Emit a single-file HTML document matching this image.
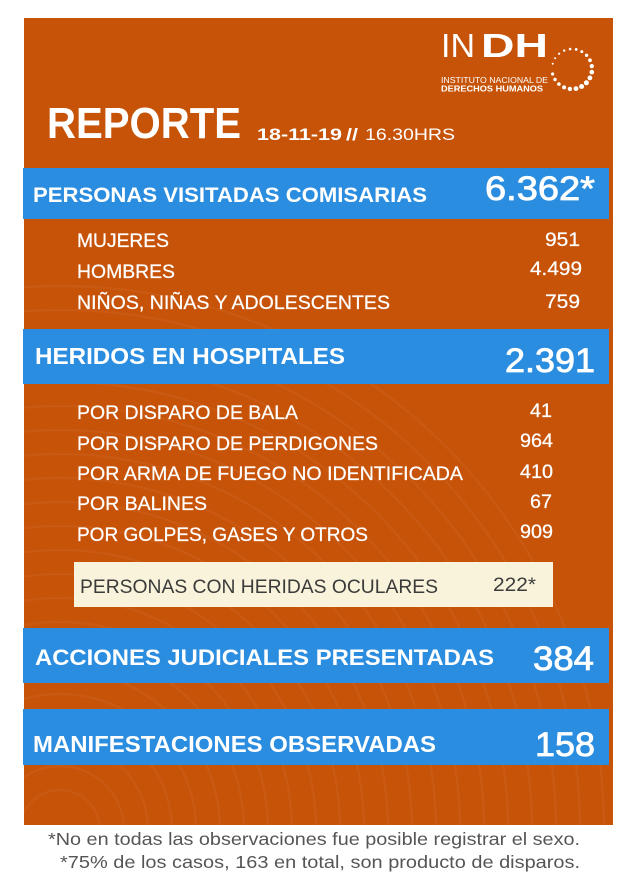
<!DOCTYPE html>
<html>
<head>
<meta charset="utf-8">
<style>
  html,body{margin:0;padding:0;background:#fff;width:630px;height:888px;overflow:hidden;}
  svg{display:block;}
  text{font-family:"Liberation Sans",sans-serif;}
</style>
</head>
<body>
<svg width="630" height="888" viewBox="0 0 630 888" xmlns="http://www.w3.org/2000/svg" style="overflow:hidden">
  <defs>
    <clipPath id="oc"><rect x="24" y="18" width="589" height="807"/></clipPath>
  </defs>
  <rect x="0" y="0" width="630" height="888" fill="#ffffff"/>
  <!-- orange panel -->
  <rect x="24" y="18" width="589" height="807" fill="#c65308"/>
  <!-- subtle background arcs -->
  <g clip-path="url(#oc)" fill="none" stroke="#d9783a" stroke-opacity="0.22" stroke-width="2.2">
    <path d="M24 812.6 A40 40 0 0 1 99.7 825"/>
    <path d="M24 777.1 A64 64 0 0 1 123.8 825"/>
    <path d="M24 749.7 A88 88 0 0 1 147.9 825"/>
    <path d="M24 723.9 A112 112 0 0 1 171.9 825"/>
    <path d="M24 698.9 A136 136 0 0 1 195.9 825"/>
    <path d="M24 674.1 A160 160 0 0 1 219.9 825"/>
    <path d="M24 649.6 A184 184 0 0 1 243.9 825"/>
    <path d="M24 625.1 A208 208 0 0 1 267.9 825"/>
    <path d="M24 600.8 A232 232 0 0 1 291.9 825"/>
    <path d="M24 576.5 A256 256 0 0 1 315.9 825"/>
    <path d="M24 552.3 A280 280 0 0 1 340 825"/>
    <path d="M24 528.1 A304 304 0 0 1 364 825"/>
    <path d="M24 504.0 A328 328 0 0 1 388 825"/>
    <path d="M24 479.8 A352 352 0 0 1 412 825"/>
    <path d="M24 455.7 A376 376 0 0 1 436 825"/>
    <path d="M24 431.6 A400 400 0 0 1 460 825"/>
    <path d="M24 407.5 A424 424 0 0 1 484 825"/>
    <path d="M24 383.4 A448 448 0 0 1 508 825"/>
    <path d="M24 359.4 A472 472 0 0 1 532 825"/>
    <path d="M24 335.3 A496 496 0 0 1 556 825"/>
    <path d="M24 311.2 A520 520 0 0 1 580 825"/>
    <path d="M24 287.2 A544 544 0 0 1 604 825"/>
  </g>

  <!-- logo -->
  <text x="441" y="57" font-size="33" fill="#fff" textLength="34" lengthAdjust="spacingAndGlyphs">IN</text>
  <text x="481" y="57" font-size="33" font-weight="bold" fill="#fff" textLength="67" lengthAdjust="spacingAndGlyphs">DH</text>
  <text x="441" y="83" font-size="8.5" fill="#fff" textLength="107" lengthAdjust="spacingAndGlyphs">INSTITUTO NACIONAL DE</text>
  <text x="441" y="91.5" font-size="8.5" font-weight="bold" fill="#fff" textLength="102" lengthAdjust="spacingAndGlyphs">DERECHOS HUMANOS</text>
  <g fill="#fff">
    <circle cx="552.7" cy="63.8" r="1.0"/>
    <circle cx="555.1" cy="58.3" r="1.0"/>
    <circle cx="559.1" cy="53.7" r="1.1"/>
    <circle cx="564.2" cy="50.6" r="1.2"/>
    <circle cx="570.1" cy="49.1" r="1.3"/>
    <circle cx="576.2" cy="49.4" r="1.4"/>
    <circle cx="581.8" cy="51.6" r="1.5"/>
    <circle cx="586.6" cy="55.3" r="1.7"/>
    <circle cx="590.0" cy="60.3" r="1.9"/>
    <circle cx="591.8" cy="66.1" r="2.1"/>
    <circle cx="591.8" cy="72.1" r="2.3"/>
    <circle cx="589.9" cy="77.9" r="2.4"/>
    <circle cx="586.4" cy="82.8" r="2.5"/>
    <circle cx="581.6" cy="86.5" r="2.5"/>
    <circle cx="576.0" cy="88.6" r="2.4"/>
    <circle cx="569.9" cy="88.9" r="2.2"/>
    <circle cx="564.1" cy="87.4" r="2.0"/>
    <circle cx="558.9" cy="84.1" r="1.8"/>
    <circle cx="555.0" cy="79.5" r="1.7"/>
    <circle cx="552.6" cy="74.0" r="1.6"/>
  </g>

  <!-- header -->
  <text x="47" y="138" font-size="44" font-weight="bold" fill="#fff" textLength="194" lengthAdjust="spacingAndGlyphs">REPORTE</text>
  <text x="257" y="140" font-size="17" font-weight="bold" fill="#fff" textLength="85" lengthAdjust="spacingAndGlyphs">18-11-19</text>
  <text x="346" y="140" font-size="17" font-weight="bold" fill="#fff" textLength="12" lengthAdjust="spacingAndGlyphs">//</text>
  <text x="365" y="140" font-size="17" fill="#fff" textLength="90" lengthAdjust="spacingAndGlyphs">16.30HRS</text>

  <!-- bar 1 -->
  <rect x="23" y="168" width="586" height="51" fill="#2b8de0"/>
  <text x="33" y="202" font-size="21.5" font-weight="bold" fill="#fff" textLength="394" lengthAdjust="spacingAndGlyphs">PERSONAS VISITADAS COMISARIAS</text>
  <text x="485" y="200" font-size="34" fill="#fff" stroke="#fff" stroke-width="0.8" textLength="110" lengthAdjust="spacingAndGlyphs">6.362*</text>

  <g font-size="19" fill="#fff" stroke="#fff" stroke-width="0.25">
    <text x="77" y="247" textLength="92" lengthAdjust="spacingAndGlyphs">MUJERES</text>
    <text x="77" y="278" textLength="98" lengthAdjust="spacingAndGlyphs">HOMBRES</text>
    <text x="77" y="309" textLength="313" lengthAdjust="spacingAndGlyphs">NIÑOS, NIÑAS Y ADOLESCENTES</text>
    <text x="545" y="246" textLength="35" lengthAdjust="spacingAndGlyphs">951</text>
    <text x="530" y="275" textLength="52" lengthAdjust="spacingAndGlyphs">4.499</text>
    <text x="545" y="308" textLength="35" lengthAdjust="spacingAndGlyphs">759</text>
  </g>

  <!-- bar 2 -->
  <rect x="23" y="329" width="586" height="55" fill="#2b8de0"/>
  <text x="35" y="364" font-size="23" font-weight="bold" fill="#fff" textLength="310" lengthAdjust="spacingAndGlyphs">HERIDOS EN HOSPITALES</text>
  <text x="505" y="372" font-size="34" fill="#fff" stroke="#fff" stroke-width="0.8" textLength="90" lengthAdjust="spacingAndGlyphs">2.391</text>

  <g font-size="19" fill="#fff" stroke="#fff" stroke-width="0.25">
    <text x="77" y="419" textLength="221" lengthAdjust="spacingAndGlyphs">POR DISPARO DE BALA</text>
    <text x="77" y="450" textLength="301" lengthAdjust="spacingAndGlyphs">POR DISPARO DE PERDIGONES</text>
    <text x="77" y="480" textLength="386" lengthAdjust="spacingAndGlyphs">POR ARMA DE FUEGO NO IDENTIFICADA</text>
    <text x="77" y="510" textLength="130" lengthAdjust="spacingAndGlyphs">POR BALINES</text>
    <text x="77" y="541" textLength="291" lengthAdjust="spacingAndGlyphs">POR GOLPES, GASES Y OTROS</text>
    <text x="530" y="417" textLength="22" lengthAdjust="spacingAndGlyphs">41</text>
    <text x="520" y="447" textLength="33" lengthAdjust="spacingAndGlyphs">964</text>
    <text x="520" y="478" textLength="33" lengthAdjust="spacingAndGlyphs">410</text>
    <text x="530" y="508" textLength="22" lengthAdjust="spacingAndGlyphs">67</text>
    <text x="520" y="538" textLength="33" lengthAdjust="spacingAndGlyphs">909</text>
  </g>

  <!-- yellow box -->
  <rect x="74" y="562" width="479" height="45" fill="#f8f3da"/>
  <text x="80" y="593" font-size="19" fill="#3b3b3b" textLength="358" lengthAdjust="spacingAndGlyphs">PERSONAS CON HERIDAS OCULARES</text>
  <text x="493" y="591" font-size="19" fill="#3b3b3b" textLength="43" lengthAdjust="spacingAndGlyphs">222*</text>

  <!-- bar 3 -->
  <rect x="23" y="628" width="586" height="55" fill="#2b8de0"/>
  <text x="35" y="665" font-size="22" font-weight="bold" fill="#fff" textLength="459" lengthAdjust="spacingAndGlyphs">ACCIONES JUDICIALES PRESENTADAS</text>
  <text x="533" y="670" font-size="34" fill="#fff" stroke="#fff" stroke-width="0.8" textLength="61" lengthAdjust="spacingAndGlyphs">384</text>

  <!-- bar 4 -->
  <rect x="23" y="709" width="586" height="56" fill="#2b8de0"/>
  <text x="33" y="752" font-size="23" font-weight="bold" fill="#fff" textLength="403" lengthAdjust="spacingAndGlyphs">MANIFESTACIONES OBSERVADAS</text>
  <text x="535" y="756" font-size="34" fill="#fff" stroke="#fff" stroke-width="0.8" textLength="60" lengthAdjust="spacingAndGlyphs">158</text>

  <!-- footer -->
  <text x="48" y="845" font-size="17.5" fill="#555" textLength="532" lengthAdjust="spacingAndGlyphs">*No en todas las observaciones fue posible registrar el sexo.</text>
  <text x="60" y="868" font-size="17.5" fill="#555" textLength="520" lengthAdjust="spacingAndGlyphs">*75% de los casos, 163 en total, son producto de disparos.</text>
</svg>
</body>
</html>
